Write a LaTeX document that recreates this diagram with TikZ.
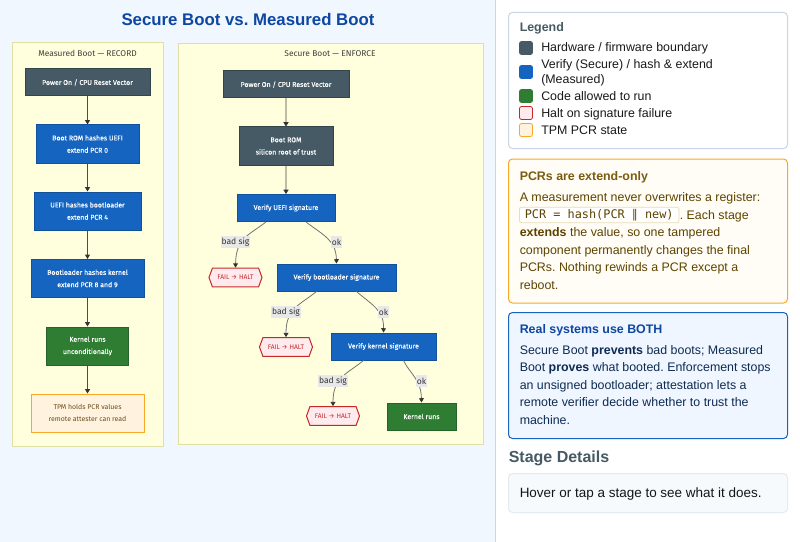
\documentclass[tikz,border=0pt]{standalone}
\usepackage{fontspec}
\setmainfont{Liberation Sans}
\setmonofont{DejaVu Sans Mono}
\newfontfamily\chartfont{Fira Sans}
\newfontfamily\chartheavy[FakeBold=0.1]{Fira Sans}
\newfontfamily\symfont{DejaVu Sans}
\usetikzlibrary{arrows.meta,shapes.symbols}
\frenchspacing

\definecolor{pagebg}{HTML}{F0F7FF}
\definecolor{sidebarline}{HTML}{C9D6E3}
\definecolor{groupfill}{HTML}{FFFFDE}
\definecolor{groupline}{HTML}{E0E0A4}
\definecolor{slatefill}{HTML}{455A64}
\definecolor{bluefill}{HTML}{1565C0}
\definecolor{greenfill}{HTML}{2E7D32}
\definecolor{haltfill}{HTML}{FFEBEE}
\definecolor{haltline}{HTML}{C62828}
\definecolor{tpmfill}{HTML}{FFF3E0}
\definecolor{tpmline}{HTML}{F9A825}
\definecolor{tpmtext}{HTML}{6D4C1A}
\definecolor{notefill}{HTML}{FFFDF5}
\definecolor{notetext}{HTML}{5D4300}
\definecolor{notehead}{HTML}{7A5C10}
\definecolor{chipline}{HTML}{E8DDB5}
\definecolor{infofill}{HTML}{F0F6FF}
\definecolor{infotext}{HTML}{0D2B52}
\definecolor{titleblue}{HTML}{0D47A1}
\definecolor{palerule}{HTML}{BDBDA5}
\definecolor{stagefill}{HTML}{F7FAFD}
\definecolor{stageline}{HTML}{E3EAF2}

\tikzset{
  box/.style={rectangle, draw, line width=0.75pt, inner sep=0pt, text=white, align=center,
    font=\chartheavy\fontsize{5.2}{9.2}\selectfont},
  hwbox/.style={box, fill=slatefill, draw=slatefill!75!black},
  verifybox/.style={box, fill=bluefill, draw=bluefill!80!black},
  runbox/.style={box, fill=greenfill, draw=greenfill!80!black},
  tpmbox/.style={box, fill=tpmfill, draw=tpmline, text=tpmtext},
  haltbox/.style={signal, signal to=west and east, signal pointer angle=140,
    draw=haltline, fill=haltfill, line width=0.75pt, inner sep=0pt, minimum width=39.75pt, minimum height=14pt,
    text=haltline, font=\chartfont\fontsize{5}{6}\selectfont},
  flow/.style={draw=black!70, line width=1pt, -{Triangle[length=3.2pt,width=3.6pt,color=black!80]}},
  paleflow/.style={draw=palerule, line width=1.4pt, -{Triangle[length=3.2pt,width=3.8pt,color=black!80]}},
  branch/.style={draw=black!55, line width=0.6pt, -{Triangle[length=3.2pt,width=3.6pt,color=black!80]}},
  edgetag/.style={fill=black!9, inner xsep=0.5pt, inner ysep=0pt, minimum height=9.5pt, text=black!80,
    font=\chartfont\fontsize{6.4}{7}\selectfont},
  grouptitle/.style={text=black!75, font=\chartfont\fontsize{6.3}{7}\selectfont},
  card/.style={rectangle, rounded corners=3pt, line width=0.75pt},
  txt/.style={anchor=base west, inner sep=0pt, font=\fontsize{9.3}{12}\selectfont},
  legtxt/.style={anchor=base west, inner sep=0pt, text=black!90, font=\fontsize{9.3}{12}\selectfont},
  swatch/.style={rectangle, rounded corners=1.5pt, minimum width=9.7pt, minimum height=9.7pt, inner sep=0pt, line width=0.6pt},
}

\begin{document}
\begin{tikzpicture}[x=0.75pt,y=-0.75pt]
\useasboundingbox (0,0) rectangle (800,542);

% Page and sidebar
\fill[pagebg] (0,0) rectangle (495,542);
\fill[sidebarline] (495,0) rectangle (496,542);
\fill[white] (496,0) rectangle (800,542);
\node[text=titleblue, font=\bfseries\fontsize{12.6}{15}\selectfont] (title) at (248,19.5) {Secure Boot vs. Measured Boot};

% Groups
\draw[fill=groupfill, draw=groupline, line width=0.75pt] (12.5,42.5) rectangle (163,446);
\draw[fill=groupfill, draw=groupline, line width=0.75pt] (178,43.5) rectangle (483,444);
\node[grouptitle] (mtitle) at (87.5,53) {Measured Boot — RECORD};
\node[grouptitle] (stitle) at (330,54) {Secure Boot — ENFORCE};

% Measured boot
\node[hwbox, minimum width=93.75pt, minimum height=20.25pt] (m1) at (87.5,82.5) {Power On / CPU Reset Vector};
\node[verifybox, minimum width=77.25pt, minimum height=28.5pt] (m2) at (87.5,144) {Boot ROM hashes UEFI\\extend PCR 0};
\node[verifybox, minimum width=80.25pt, minimum height=28.5pt] (m3) at (87.5,211) {UEFI hashes bootloader\\extend PCR 4};
\node[verifybox, minimum width=84.75pt, minimum height=28.5pt] (m4) at (87.5,278.5) {Bootloader hashes kernel\\extend PCR 8 and 9};
\node[runbox, minimum width=61.5pt, minimum height=28.5pt] (m5) at (87.5,346) {Kernel runs\\unconditionally};
\node[tpmbox, minimum width=84.75pt, minimum height=28.5pt, font=\chartfont\fontsize{5.2}{9.2}\selectfont] (m6) at (87.5,413) {TPM holds PCR values\\remote attester can read};

\draw[flow] (m1) -- (m2);
\draw[flow] (m2) -- (m3);
\draw[flow] (m3) -- (m4);
\draw[flow] (m4) -- (m5);
\draw[flow] (m5) -- (m6);

% Secure boot
\node[hwbox, minimum width=94.5pt, minimum height=20.25pt] (s1) at (286,84.5) {Power On / CPU Reset Vector};
\node[hwbox, minimum width=70.5pt, minimum height=28.5pt] (s2) at (286,146) {Boot ROM\\silicon root of trust};
\node[verifybox, minimum width=73.5pt, minimum height=20.25pt] (s3) at (286,208) {Verify UEFI signature};
\node[verifybox, minimum width=89.25pt, minimum height=20.25pt] (s4) at (336.5,277.5) {Verify bootloader signature};
\node[verifybox, minimum width=78.75pt, minimum height=20.25pt] (s5) at (383.5,346.5) {Verify kernel signature};
\node[runbox, minimum width=51.75pt, minimum height=20.25pt] (s6) at (421.5,416.5) {Kernel runs};
\node[haltbox] (f1) at (235.5,277.5) {FAIL → HALT};
\node[haltbox] (f2) at (286,347) {FAIL → HALT};
\node[haltbox] (f3) at (333,416) {FAIL → HALT};

\draw[paleflow] (s1) -- (s2);
\draw[paleflow] (s2) -- (s3);
\draw[branch] ([xshift=-15pt]s3.south) .. controls (249,235) and (236,238) .. (f1.north);
\draw[branch] ([xshift=15pt]s3.south) .. controls (323,235) and (336,240) .. (s4.north);
\draw[branch] ([xshift=-15pt]s4.south) .. controls (300,305) and (286,308) .. (f2.north);
\draw[branch] ([xshift=15pt]s4.south) .. controls (372,305) and (384,310) .. (s5.north);
\draw[branch] ([xshift=-15pt]s5.south) .. controls (347,374) and (333,377) .. (f3.north);
\draw[branch] ([xshift=15pt]s5.south) .. controls (410,374) and (421,379) .. (s6.north);

\node[edgetag] (e1) at (235.5,242) {bad sig};
\node[edgetag] (e2) at (336.5,242) {ok};
\node[edgetag] (e3) at (286,312) {bad sig};
\node[edgetag] (e4) at (383.5,312) {ok};
\node[edgetag] (e5) at (333,381) {bad sig};
\node[edgetag] (e6) at (421.5,381) {ok};

% Legend
\draw[card, fill=white, draw=sidebarline] (508.5,12.5) rectangle (787.5,148.5);
\node[txt, text=slatefill, font=\bfseries\fontsize{9.3}{12}\selectfont] (leghead) at (519.5,32) {Legend};
\node[swatch, fill=slatefill, draw=slatefill] (sw1) at (526,48) {};
\node[swatch, fill=bluefill, draw=bluefill] (sw2) at (526,72) {};
\node[swatch, fill=greenfill, draw=greenfill] (sw3) at (526,96) {};
\node[swatch, fill=haltfill, draw=haltline] (sw4) at (526,113) {};
\node[swatch, fill=tpmfill, draw=tpmline] (sw5) at (526,130) {};
\node[legtxt] (lg1) at (541,52) {Hardware / firmware boundary};
\node[legtxt] (lg2) at (541,69) {Verify (Secure) / hash \& extend};
\node[legtxt] (lg2b) at (541,83.5) {(Measured)};
\node[legtxt] (lg3) at (541,100.5) {Code allowed to run};
\node[legtxt] (lg4) at (541,117.5) {Halt on signature failure};
\node[legtxt] (lg5) at (541,134.5) {TPM PCR state};

% Extend-only note
\draw[card, fill=notefill, draw=tpmline] (508.5,159) rectangle (787.5,303);
\node[txt, text=notehead, font=\bfseries\fontsize{9.3}{12}\selectfont] (nhead) at (519.5,180) {PCRs are extend-only};
\node[txt, text=notetext] (n1) at (519.5,201.7) {A measurement never overwrites a register:};
\node[rectangle, rounded corners=1.5pt, draw=chipline, fill=white, line width=0.6pt, inner sep=0pt,
  minimum width=119.6pt, minimum height=11.5pt, text=notetext, font=\ttfamily\fontsize{8.9}{10}\selectfont] (code) at (599.2,215) {PCR = hash(PCR {\symfont ∥} new)};
\node[txt, text=notetext] (n2) at (679.5,219.2) {. Each stage};
\node[txt, text=notetext] (n3) at (519.5,236.7) {\textbf{extends} the value, so one tampered};
\node[txt, text=notetext] (n4) at (519.5,254.2) {component permanently changes the final};
\node[txt, text=notetext] (n5) at (519.5,271.7) {PCRs. Nothing rewinds a PCR except a};
\node[txt, text=notetext] (n6) at (519.5,289.2) {reboot.};

% Both systems note
\draw[card, fill=infofill, draw=bluefill] (508.5,312.5) rectangle (787.5,438.5);
\node[txt, text=titleblue, font=\bfseries\fontsize{9.3}{12}\selectfont] (bhead) at (519.5,333) {Real systems use BOTH};
\node[txt, text=infotext] (b1) at (519.5,354) {Secure Boot \textbf{prevents} bad boots; Measured};
\node[txt, text=infotext] (b2) at (519.5,371.7) {Boot \textbf{proves} what booted. Enforcement stops};
\node[txt, text=infotext] (b3) at (519.5,389) {an unsigned bootloader; attestation lets a};
\node[txt, text=infotext] (b4) at (519.5,406.7) {remote verifier decide whether to trust the};
\node[txt, text=infotext] (b5) at (519.5,424) {machine.};

% Stage details
\node[txt, text=slatefill, font=\bfseries\fontsize{12}{14}\selectfont] (dhead) at (508.5,462.5) {Stage Details};
\draw[card, fill=stagefill, draw=stageline] (508.5,473.5) rectangle (787.5,512.5);
\node[txt, text=black!75!slatefill, font=\fontsize{10.1}{12}\selectfont] (dtext) at (519.5,497) {Hover or tap a stage to see what it does.};

\end{tikzpicture}
\end{document}
